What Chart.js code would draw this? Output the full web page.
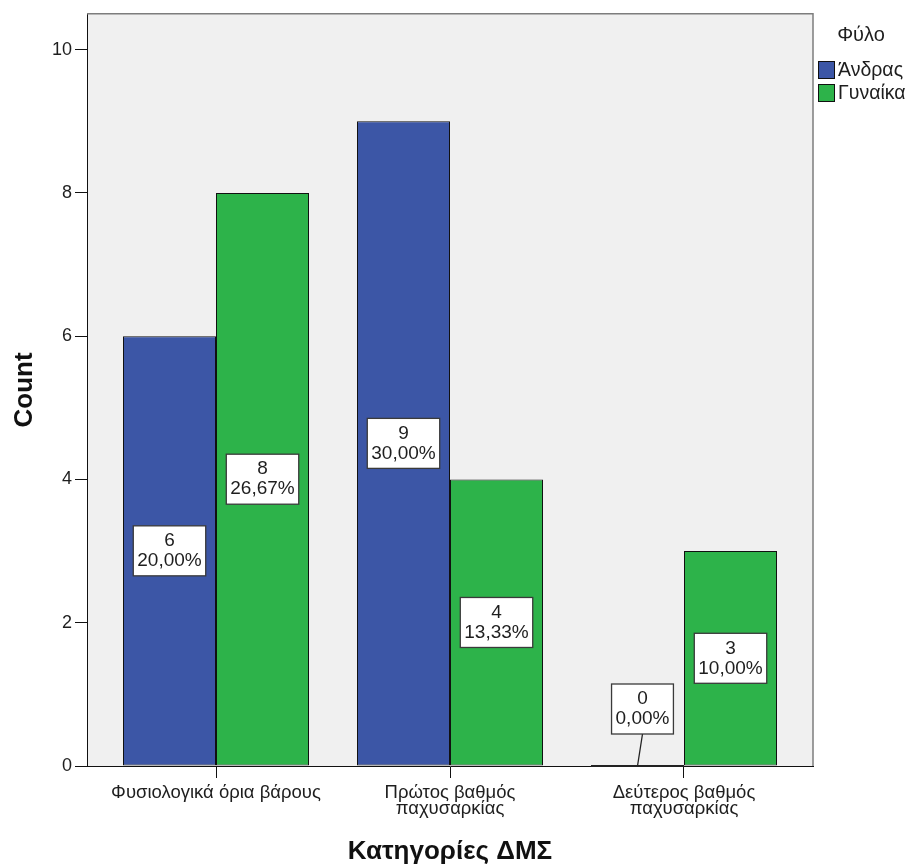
<!DOCTYPE html>
<html>
<head>
<meta charset="utf-8">
<script src="https://cdn.jsdelivr.net/npm/chart.js@4.4.1/dist/chart.umd.min.js"></script>
<style>
  html, body { margin: 0; padding: 0; background: #fff; }
  #wrap { width: 908px; height: 865px; }
</style>
</head>
<body>
<div id="wrap"><canvas id="bmiChart" width="908" height="865"></canvas></div>
<script>
// data
const categories = [['Φυσιολογικά όρια βάρους'], ['Πρώτος βαθμός', 'παχυσαρκίας'], ['Δεύτερος βαθμός', 'παχυσαρκίας']];
const seriesNames = ['Άνδρας', 'Γυναίκα'];
const menCounts = [6, 9, 0];
const womenCounts = [8, 4, 3];
const menPct = ['20,00%', '30,00%', '0,00%'];
const womenPct = ['26,67%', '13,33%', '10,00%'];
const yTicks = [0, 2, 4, 6, 8, 10];
const yMax = 10.5;
const legendTitle = 'Φύλο';
const xTitle = 'Κατηγορίες ΔΜΣ';
const yTitle = 'Count';

const FONT = "'Liberation Sans', Arial, sans-serif";
const COLORS = ['#3c56a6', '#2db34a'];
const TEXT = '#1e1e1e';
const labelSets = [[menCounts, menPct], [womenCounts, womenPct]];

// plot background + frame
const plotBg = {
  id: 'plotBg',
  beforeDraw(chart){
    const a = chart.chartArea, ctx = chart.ctx;
    ctx.save();
    ctx.fillStyle = '#f0f0f0';
    ctx.fillRect(a.left, a.top, a.right - a.left, a.bottom - a.top);
    ctx.restore();
  },
  afterDraw(chart){
    const a = chart.chartArea, ctx = chart.ctx;
    ctx.save();
    ctx.strokeStyle = '#7d7d7d';
    ctx.lineWidth = 1.5;
    ctx.beginPath();
    ctx.moveTo(a.left, a.top);
    ctx.lineTo(a.right, a.top);
    ctx.lineTo(a.right, a.bottom);
    ctx.stroke();
    ctx.restore();
  }
};

// white boxed value labels (count + percent)
const boxLabels = {
  id: 'boxLabels',
  afterDatasetsDraw(chart){
    const ctx = chart.ctx;
    ctx.save();
    ctx.font = '19px ' + FONT;
    ctx.textAlign = 'center';
    ctx.textBaseline = 'middle';
    chart.data.datasets.forEach((ds, di) => {
      const meta = chart.getDatasetMeta(di);
      const [counts, pcts] = labelSets[di];
      meta.data.forEach((bar, i) => {
        const l1 = String(counts[i]), l2 = pcts[i];
        const w = Math.max(ctx.measureText(l1).width, ctx.measureText(l2).width) + 8;
        const h = 50;
        let cx = bar.x, cy = (bar.y + bar.base) / 2;
        const zero = counts[i] === 0;
        if (zero) {
          // zero bar: box sits above the axis with a leader line
          cx = bar.x + 5; cy = bar.base - 32 - h / 2;
          ctx.strokeStyle = '#222';
          ctx.lineWidth = 1.3;
          ctx.beginPath();
          ctx.moveTo(cx, cy + h / 2);
          ctx.lineTo(bar.x, bar.base);
          ctx.stroke();
          ctx.lineWidth = 2;
          ctx.beginPath();
          ctx.moveTo(bar.x - bar.width / 2, bar.base);
          ctx.lineTo(bar.x + bar.width / 2, bar.base);
          ctx.stroke();
        }
        ctx.fillStyle = '#fff';
        ctx.fillRect(cx - w / 2, cy - h / 2, w, h);
        ctx.strokeStyle = '#3a3a3a';
        ctx.lineWidth = 1.3;
        ctx.strokeRect(cx - w / 2, cy - h / 2, w, h);
        ctx.fillStyle = TEXT;
        ctx.fillText(l1, cx, cy - 10);
        ctx.fillText(l2, cx, cy + 10);
      });
    });
    ctx.restore();
  }
};

// axis titles and legend on the right
const decor = {
  id: 'decor',
  afterDraw(chart){
    const ctx = chart.ctx, a = chart.chartArea;
    ctx.save();
    ctx.fillStyle = '#111';
    ctx.font = 'bold 26px ' + FONT;
    ctx.textAlign = 'center';
    ctx.textBaseline = 'alphabetic';
    ctx.fillText(xTitle, (a.left + a.right) / 2, 859);
    ctx.save();
    ctx.translate(32, (a.top + a.bottom) / 2);
    ctx.rotate(-Math.PI / 2);
    ctx.fillText(yTitle, 0, 0);
    ctx.restore();

    ctx.font = '20px ' + FONT;
    ctx.fillStyle = TEXT;
    ctx.fillText(legendTitle, 861, 41);
    ctx.font = '19.5px ' + FONT;
    ctx.textAlign = 'left';
    seriesNames.forEach((name, i) => {
      const top = 61 + i * 23;
      ctx.fillStyle = COLORS[i];
      ctx.fillRect(818, top, 16, 17);
      ctx.strokeStyle = '#111';
      ctx.lineWidth = 1;
      ctx.strokeRect(818.5, top + 0.5, 16, 17);
      ctx.fillStyle = TEXT;
      ctx.fillText(name, 838, top + 15);
    });
    ctx.restore();
  }
};

const datasets = labelSets.map((set, di) => ({
  label: seriesNames[di],
  data: set[0].map((v, i) => ({ x: i, y: v })),
  backgroundColor: COLORS[di],
  borderColor: '#111',
  borderWidth: 1,
  borderSkipped: false,
  categoryPercentage: 0.795,
  barPercentage: 1
}));

new Chart(document.getElementById('bmiChart'), {
  type: 'bar',
  data: { datasets },
  options: {
    responsive: false,
    animation: false,
    layout: { padding: { top: 11, right: 95, left: 0, bottom: 0 } },
    plugins: { legend: { display: false }, tooltip: { enabled: false } },
    scales: {
      x: {
        type: 'linear',
        offset: false,
        min: -0.5513,
        max: 2.5513,
        afterBuildTicks: s => { s.ticks = categories.map((c, i) => ({ value: i })); },
        afterFit: s => { s.height = 99; },
        grid: { offset: false, drawOnChartArea: false, tickLength: 12, color: '#111' },
        border: { color: '#111', width: 1 },
        ticks: {
          autoSkip: false, maxRotation: 0, padding: 7, color: TEXT,
          font: { family: FONT, size: 18.5, lineHeight: 0.87 },
          callback: v => categories[v]
        }
      },
      y: {
        min: 0,
        max: yMax,
        afterBuildTicks: s => { s.ticks = yTicks.map(v => ({ value: v })); },
        afterFit: s => { s.width = 87; },
        grid: { drawOnChartArea: false, tickLength: 12, color: '#111' },
        border: { color: '#111', width: 1 },
        ticks: { padding: 3, color: TEXT, font: { family: FONT, size: 18 } }
      }
    }
  },
  plugins: [plotBg, boxLabels, decor]
});
</script>
</body>
</html>
